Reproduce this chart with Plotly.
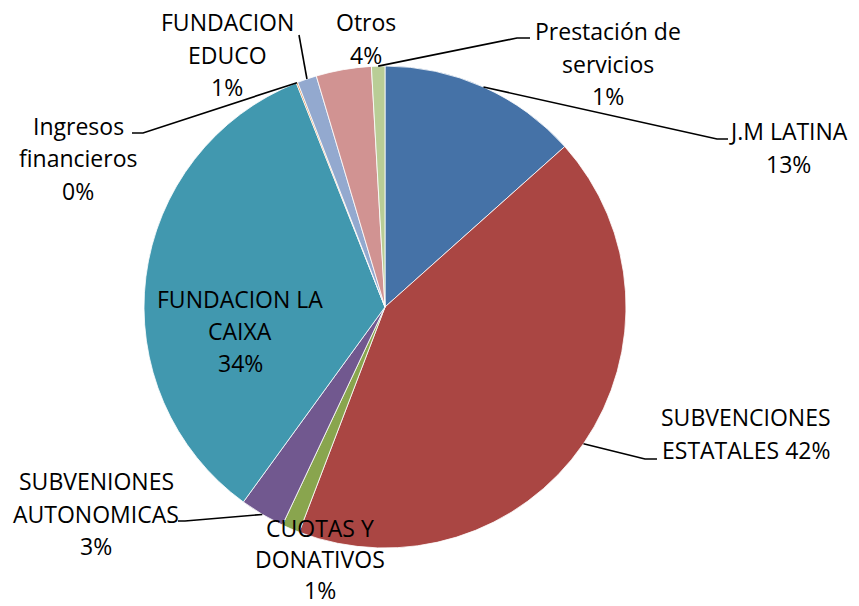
import math
import plotly.graph_objects as go

W, H = 859, 606

categories = ["J.M LATINA", "SUBVENCIONES ESTATALES", "CUOTAS Y DONATIVOS",
              "SUBVENIONES AUTONOMICAS", "FUNDACION LA CAIXA", "Ingresos financieros",
              "FUNDACION EDUCO", "Otros", "Prestación de servicios"]
values = [13.4, 42.4, 1.2, 3.0, 34.0, 0.1, 1.3, 3.7, 0.9]
colors = ["#4572A7", "#AA4643", "#89A54E", "#71588F", "#4198AF",
          "#DB843D", "#93A9CF", "#D19392", "#B9CD96"]

# label lines (text) per category
label_lines = {
    "J.M LATINA": ["J.M LATINA", "13%"],
    "SUBVENCIONES ESTATALES": ["SUBVENCIONES", "ESTATALES 42%"],
    "CUOTAS Y DONATIVOS": ["CUOTAS Y", "DONATIVOS", "1%"],
    "SUBVENIONES AUTONOMICAS": ["SUBVENIONES", "AUTONOMICAS", "3%"],
    "FUNDACION LA CAIXA": ["FUNDACION LA", "CAIXA", "34%"],
    "Ingresos financieros": ["Ingresos", "financieros", "0%"],
    "FUNDACION EDUCO": ["FUNDACION", "EDUCO", "1%"],
    "Otros": ["Otros", "4%"],
    "Prestación de servicios": ["Prestación de", "servicios", "1%"],
}
# label layout: center x, first-line y, line spacing (pixels)
label_pos = {
    "J.M LATINA": (788, 131, 32.5),
    "SUBVENCIONES ESTATALES": (746, 417, 32.5),
    "CUOTAS Y DONATIVOS": (320, 528, 31),
    "SUBVENIONES AUTONOMICAS": (96, 481, 32.5),
    "FUNDACION LA CAIXA": (240, 299, 32),
    "Ingresos financieros": (78, 126, 32.5),
    "FUNDACION EDUCO": (227, 22, 32.5),
    "Otros": (366, 22, 32.5),
    "Prestación de servicios": (608, 31, 32.5),
}
# leader line elbow (pixels): bend point, end point
leaders = {
    "J.M LATINA": [(717, 139), (728, 139)],
    "SUBVENCIONES ESTATALES": [(645, 459), (657, 459)],
    "SUBVENIONES AUTONOMICAS": [(185, 521), (178, 521)],
    "Ingresos financieros": [(143, 133), (132, 133)],
    "FUNDACION EDUCO": [(299, 35)],
    "Prestación de servicios": [(517, 38), (530, 38)],
}

CX, CY, R = 385, 307, 241
FONT = "Open Sans"
FS = 23


def px(x):
    return x / W


def py(y):
    return 1 - y / H


fig = go.Figure(go.Pie(
    labels=categories, values=values, sort=False, direction="clockwise",
    rotation=0, marker=dict(colors=colors, line=dict(color="white", width=0.8)),
    textinfo="none", hoverinfo="label+percent", showlegend=False,
    domain=dict(x=[px(CX - R), px(CX + R)], y=[py(CY + R), py(CY - R)]),
))

annotations = []
shapes = []
total = sum(values)
cum = 0.0
for cat, v in zip(categories, values):
    mid = (cum + v / 2) / total * 2 * math.pi
    cum += v
    ax = CX + R * math.sin(mid)
    ay = CY - R * math.cos(mid)
    if cat in leaders:
        pts = [(ax, ay)] + leaders[cat]
        path = "M " + " L ".join(f"{px(x):.5f},{py(y):.5f}" for x, y in pts)
        shapes.append(dict(type="path", xref="paper", yref="paper", path=path,
                           line=dict(color="black", width=1.6)))
    lx, ly, lh = label_pos[cat]
    for i, t in enumerate(label_lines[cat]):
        annotations.append(dict(
            text=t, x=px(lx), y=py(ly + i * lh), xref="paper", yref="paper",
            xanchor="center", yanchor="middle", showarrow=False, borderpad=0,
            font=dict(family=FONT, size=FS, color="black")))

fig.update_layout(
    width=W, height=H, margin=dict(l=0, r=0, t=0, b=0),
    paper_bgcolor="white", plot_bgcolor="white",
    annotations=annotations, shapes=shapes,
)
fig.write_html("out.html", config={"displayModeBar": False},
               post_script="document.body.style.margin='0';")
